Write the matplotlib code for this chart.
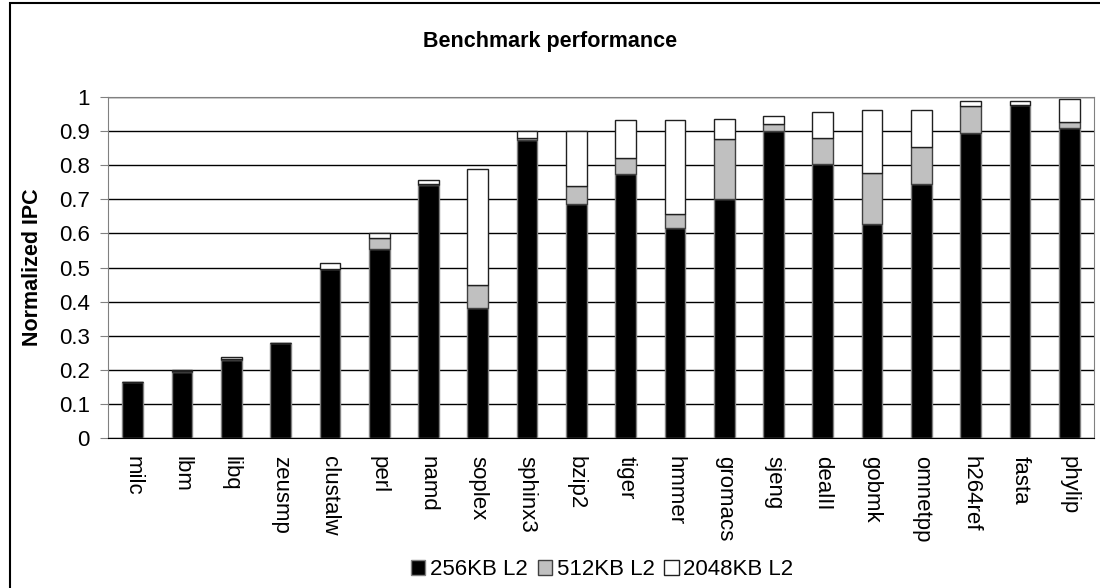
import matplotlib
matplotlib.use('Agg')
import matplotlib.pyplot as plt
import matplotlib.patches as mpatches
import numpy as np

plt.rcParams['font.family'] = ['Liberation Sans', 'DejaVu Sans']

# benchmarks and cumulative IPC
benchmarks = ['milc', 'lbm', 'libq', 'zeusmp', 'clustalw', 'perl', 'namd', 'soplex',
              'sphinx3', 'bzip2', 'tiger', 'hmmer', 'gromacs', 'sjeng', 'dealII',
              'gobmk', 'omnetpp', 'h264ref', 'fasta', 'phylip']
ipc_256 = [0.163, 0.194, 0.228, 0.280, 0.495, 0.555, 0.743, 0.381,
           0.875, 0.685, 0.773, 0.617, 0.700, 0.900, 0.803,
           0.627, 0.744, 0.895, 0.976, 0.910]
ipc_512 = [0.163, 0.197, 0.233, 0.280, 0.495, 0.588, 0.745, 0.449,
           0.880, 0.739, 0.822, 0.658, 0.876, 0.921, 0.880,
           0.776, 0.854, 0.973, 0.977, 0.926]
ipc_2048 = [0.163, 0.198, 0.237, 0.280, 0.514, 0.602, 0.758, 0.790,
            0.900, 0.900, 0.934, 0.934, 0.937, 0.943, 0.957,
            0.961, 0.963, 0.989, 0.989, 0.993]

b256 = np.array(ipc_256)
b512 = np.array(ipc_512) - b256
b2048 = np.array(ipc_2048) - np.array(ipc_512)

fig = plt.figure(figsize=(11, 5.88), dpi=100)
ax = fig.add_axes([0.0982, 0.2551, 0.8963, 0.5799])

x = np.arange(len(benchmarks))
w = 0.42
ax.bar(x, b256, w, color='black', edgecolor='#808080', linewidth=1, label='256KB L2', zorder=3)
ax.bar(x, b512, w, bottom=b256, color='#c0c0c0', edgecolor='#404040', linewidth=1,
       label='512KB L2', zorder=3)
ax.bar(x, b2048, w, bottom=b256 + b512, color='white', edgecolor='#202020', linewidth=1,
       label='2048KB L2', zorder=3)

ax.set_xlim(-0.5, len(benchmarks) - 0.5)
ax.set_ylim(0, 1)
ax.set_yticks(np.arange(0, 1.01, 0.1))
ax.set_yticklabels(['0', '0.1', '0.2', '0.3', '0.4', '0.5', '0.6', '0.7', '0.8', '0.9', '1'])
ax.set_xticks(x)
ax.set_xticklabels(benchmarks, rotation=-90, fontsize=16)
ax.tick_params(axis='x', length=0, pad=13)
ax.tick_params(axis='y', length=6, color='#808080', labelsize=16, pad=7)
ax.yaxis.grid(True, color='black', linewidth=1, zorder=0)
ax.set_axisbelow(True)

for s in ['left', 'right', 'top']:
    ax.spines[s].set_color('#808080')
ax.spines['bottom'].set_color('black')

ax.set_ylabel('Normalized IPC', fontsize=15.5, fontweight='bold')
ax.yaxis.set_label_coords(-0.066, 0.5)

fig.text(0.5, 0.92, 'Benchmark performance', ha='center', va='baseline',
         fontsize=15.5, fontweight='bold')

ax.legend(loc='center', bbox_to_anchor=(0.5475, 0.031), bbox_transform=fig.transFigure,
          ncol=3, frameon=False, fontsize=16, handlelength=0.65, handleheight=0.65,
          handletextpad=0.2, columnspacing=0.45)

# outer chart border
fig.patches.append(mpatches.Rectangle((9.5 / 1100, -0.02), 1.1, 0.995 + 0.02,
                                      transform=fig.transFigure, fill=False,
                                      edgecolor='black', linewidth=1.5))

fig.savefig('out.png', dpi=100)
